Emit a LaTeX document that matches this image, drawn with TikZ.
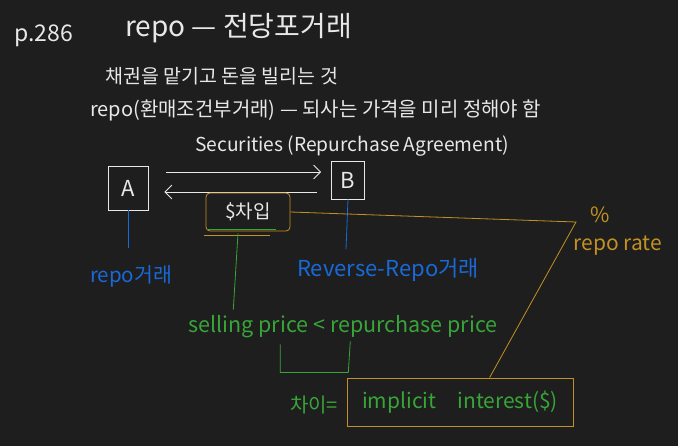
\documentclass[tikz,border=0pt]{standalone}
\usepackage{fontspec}
\newfontfamily\kr{Noto Sans CJK KR}
\usetikzlibrary{arrows.meta,positioning,calc}
\definecolor{bgdark}{RGB}{30,30,30}
\definecolor{inkwhite}{RGB}{232,232,232}
\definecolor{inkblue}{RGB}{25,105,215}
\definecolor{inkgreen}{RGB}{55,165,55}
\definecolor{inkorange}{RGB}{195,145,35}

\begin{document}
\begin{tikzpicture}[x=1pt, y=-1pt,
    note/.style={inner sep=0pt, anchor=west, text=inkwhite,
        font=\kr\fontsize{20}{22}\selectfont},
    party/.style={draw=inkwhite, thick, text=inkwhite, inner sep=0pt,
        font=\kr\fontsize{22}{24}\selectfont},
    bluetxt/.style={inner sep=0pt, text=inkblue, font=\kr\fontsize{20.5}{22}\selectfont},
    greentxt/.style={inner sep=0pt, text=inkgreen, font=\kr\fontsize{20}{22}\selectfont},
    orangetxt/.style={inner sep=0pt, text=inkorange, font=\kr\fontsize{21}{23}\selectfont},
    arr/.style={-{Straight Barb[length=7pt, width=14pt]}, inkwhite, thick},
    blueln/.style={inkblue, thick},
    greenln/.style={inkgreen, thick},
    orangeln/.style={inkorange, thick}
]
    \useasboundingbox[fill=bgdark] (0,0) rectangle (678,446);

    % Header notes
    \node[note, font=\kr\fontsize{23}{25}\selectfont] (page) at (14,36) {p.286};
    \node[note, font=\kr\fontsize{28}{30}\selectfont] (title) at (125,28) {repo — 전당포거래};
    \node[note, font=\kr\fontsize{19.5}{21}\selectfont] (def) at (105,76) {채권을 맡기고 돈을 빌리는 것};
    \node[note] (def2) at (90,110) {repo(환매조건부거래) — 되사는 가격을 미리 정해야 함};
    \node[note, anchor=center, font=\kr\fontsize{19.2}{21}\selectfont] (sec) at (352,146)
        {Securities (Repurchase Agreement)};

    % Parties
    \node[party, minimum width=40pt, minimum height=44pt] (A) at (128,188) {A};
    \node[party, minimum width=33pt, minimum height=38pt] (B) at (348,180) {B};

    % Exchange arrows
    \draw[arr] ($(A.east)+(18,-16)$) -- ($(B.west)+(-10,-8)$);
    \draw[arr] ($(B.west)+(-14,12)$) -- ($(A.east)+(16,4)$);

    % Borrowed cash
    \node[draw=inkorange, thick, rounded corners=4pt, text=inkwhite,
        minimum width=84pt, minimum height=38pt,
        font=\kr\fontsize{19}{21}\selectfont] (loan) at (248,212) {\$차입};
    \draw[greenln] ($(loan.south west)+(2,-2)$) -- ($(loan.south east)+(-14,-2)$);
    \draw[orangeln] ($(loan.south west)+(-2,4)$) -- ($(loan.south east)+(-20,4)$);

    % Who does what
    \node[bluetxt] (repoA) at (131,276) {repo거래};
    \node[bluetxt, anchor=west, font=\kr\fontsize{22}{24}\selectfont] (revB) at (297,270) {Reverse-Repo거래};
    \draw[blueln] (A.south) -- ($(A.south)+(0,38)$);
    \draw[blueln] (B.south) -- ($(B.south)+(-2,50)$);

    % Price comparison
    \node[greentxt, font=\kr\fontsize{21.5}{23}\selectfont] (cmp) at (343,327) {selling price < repurchase price};
    \draw[greenln] ($(loan.south)+(-10,2)$) -- ($(cmp.north west)+(45,-6)$);
    \coordinate (gapL) at ($(cmp.south west)+(92,6)$);
    \coordinate (gapR) at ($(cmp.south west)+(162,3)$);
    \draw[greenln] (gapL) |- ($(gapR)+(-2,31)$) -- (gapR);

    % Implicit interest
    \node[draw=inkorange, thick, minimum width=226pt, minimum height=48pt,
        text=inkgreen, font=\kr\fontsize{21}{23}\selectfont] (interest) at (460,402)
        {implicit\quad interest(\$)};
    \node[greentxt] (gap) at (314,405) {차이=};

    % Repo rate link
    \coordinate (bend) at (576,222);
    \draw[orangeln] (loan.east) -- (bend) -- ($(interest.north west)+(143,0)$);
    \node[orangetxt] (pct) at (600,215) {\%};
    \node[orangetxt] (rate) at (618,246) {repo rate};
\end{tikzpicture}
\end{document}
